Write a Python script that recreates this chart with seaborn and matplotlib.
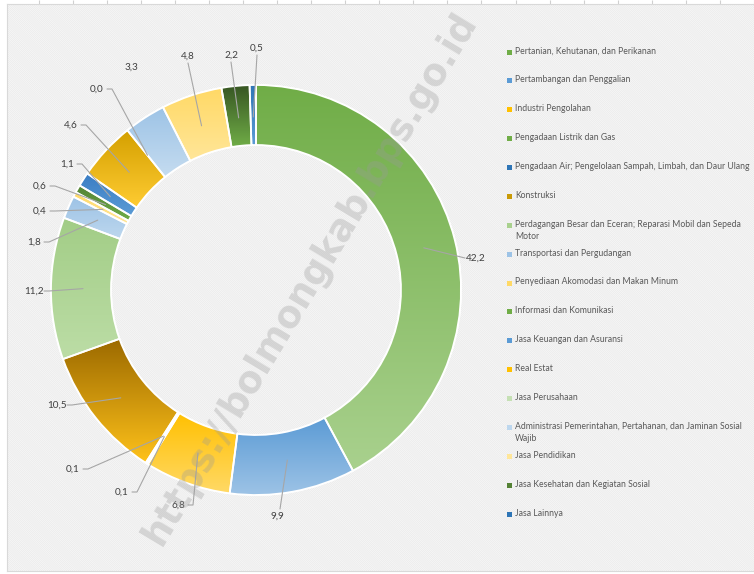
import numpy as np
import matplotlib
matplotlib.use("Agg")
import matplotlib.pyplot as plt
import seaborn as sns
from matplotlib.patches import Rectangle, Wedge
from matplotlib.colors import LinearSegmentedColormap

W, H = 754, 574

sectors = [
    "Pertanian, Kehutanan, dan Perikanan",
    "Pertambangan dan Penggalian",
    "Industri Pengolahan",
    "Pengadaan Listrik dan Gas",
    "Pengadaan Air; Pengelolaan Sampah, Limbah, dan Daur Ulang",
    "Konstruksi",
    "Perdagangan Besar dan Eceran; Reparasi Mobil dan Sepeda\nMotor",
    "Transportasi dan Pergudangan",
    "Penyediaan Akomodasi dan Makan Minum",
    "Informasi dan Komunikasi",
    "Jasa Keuangan dan Asuransi",
    "Real Estat",
    "Jasa Perusahaan",
    "Administrasi Pemerintahan, Pertahanan, dan Jaminan Sosial\nWajib",
    "Jasa Pendidikan",
    "Jasa Kesehatan dan Kegiatan Sosial",
    "Jasa Lainnya",
]
shares = [42.2, 9.9, 6.8, 0.1, 0.1, 10.5, 11.2, 1.8, 0.4, 0.6, 1.1, 4.6, 0.0, 3.3, 4.8, 2.2, 0.5]

# gradient fill of each slice, top colour -> bottom colour (Excel style)
top_colors = ['#70AD47', '#5B9BD5', '#FFC000', '#70AD47', '#5B9BD5', '#9C6A00',
              '#A2CD86', '#9DC3E6', '#FFD966', '#548235', '#3A7DC4', '#D4A000',
              '#B7DAA1', '#9DC3E6', '#FFD966', '#375623', '#2E75B6']
bottom_colors = ['#A9D18E', '#9DC3E6', '#FFD966', '#70AD47', '#5B9BD5', '#FFC21A',
                 '#BCDDA6', '#BDD7EE', '#FFE699', '#70AD47', '#5B9BD5', '#FFCC33',
                 '#C5E0B4', '#C5DCF0', '#FFE699', '#70AD47', '#5B9BD5']
legend_colors = ['#70AD47', '#5B9BD5', '#FFC000', '#70AD47', '#2E75B6', '#C99A06',
                 '#A9D18E', '#9DC3E6', '#FFD966', '#70AD47', '#5B9BD5', '#FFC000',
                 '#C5E0B4', '#BDD7EE', '#FFE699', '#548235', '#2E75B6']

# label text positions in pixel coords and the side the leader line leaves from
label_pos = [(476, 258), (277, 516), (178, 505), (122, 492), (73, 469), (57, 405),
             (34, 291), (34, 242), (40, 211), (40, 186), (67, 164), (71, 125),
             (97, 89), (131, 67), (188, 56), (231, 55), (257, 48)]
line_side = ['l', 't', 'r', 'r', 'r', 'r', 'r', 'r', 'r', 'r', 'r', 'r', 'r',
             None, 'b', 'b', 'b']


def py(y):
    return H - y


def main():
    sns.set_theme(style="white")
    plt.rcParams['font.family'] = ['Lato', 'DejaVu Sans']
    plt.rcParams['hatch.linewidth'] = 0.6

    fig = plt.figure(figsize=(W / 100, H / 100), dpi=100)
    fig.patch.set_facecolor('white')

    # background chart area (Excel style frame with ticks)
    bg = fig.add_axes([7 / W, 3 / H, (W - 7) / W, (H - 7) / H])
    bg.set_facecolor('#F9F9F9')
    bg.add_patch(Rectangle((0, 0), 1, 1, transform=bg.transAxes, facecolor='none',
                           hatch='\\' * 16, edgecolor='#EBEBEB', linewidth=0))
    bg.set_xlim(0, 1)
    bg.set_ylim(0, 1)
    bg.xaxis.tick_top()
    bg.set_xticks(np.arange(0.0, 1.0, 34.5 / (W - 7)) + 32 / (W - 7))
    bg.set_yticks(1 - (np.arange(0.0, 1.0, 15.6 / (H - 7)) + 12 / (H - 7)))
    bg.tick_params(axis='both', direction='out', length=3, width=0.8, color='#D0D0D0',
                   labeltop=False, labelleft=False, labelbottom=False)
    for s in ['top', 'left', 'bottom']:
        bg.spines[s].set_color('#D9D9D9')
        bg.spines[s].set_linewidth(0.8)
    bg.spines['right'].set_visible(False)

    ax = fig.add_axes([0, 0, 1, 1])
    ax.set_facecolor('none')
    cx, cy, R, ring = 256, py(290), 205, 60
    mid_colors = [LinearSegmentedColormap.from_list('m', [a, b])(0.5)
                  for a, b in zip(top_colors, bottom_colors)]
    wedges, _ = ax.pie(shares, colors=mid_colors, radius=R, center=(cx, cy), startangle=90,
                       counterclock=False,
                       wedgeprops=dict(width=ring, edgecolor='white', linewidth=1.3))

    # vertical gradient inside each slice, clipped to the slice shape
    grad = np.linspace(1, 0, 256).reshape(-1, 1)
    for w, c_top, c_bot in zip(wedges, top_colors, bottom_colors):
        if w.theta2 - w.theta1 <= 0:
            continue
        t = np.deg2rad(np.linspace(w.theta1, w.theta2, 90))
        ys = np.concatenate([cy + R * np.sin(t), cy + (R - ring) * np.sin(t)])
        cmap = LinearSegmentedColormap.from_list('g', [c_bot, c_top])
        im = ax.imshow(grad, cmap=cmap, aspect='auto', zorder=w.get_zorder() + 0.1,
                       extent=(cx - R, cx + R, ys.min(), ys.max()), interpolation='bilinear')
        im.set_clip_path(w)
        # white separator drawn on top of the gradient
        ax.add_patch(Wedge(w.center, w.r, w.theta1, w.theta2, width=w.width,
                           facecolor='none', edgecolor='white', linewidth=1.3,
                           zorder=w.get_zorder() + 0.2))
    ax.set_xlim(0, W)
    ax.set_ylim(0, H)
    ax.set_aspect('equal')
    ax.axis('off')

    # data labels with leader lines
    total = sum(shares)
    cum = np.cumsum([0] + shares[:-1])
    for i, v in enumerate(shares):
        frac = (cum[i] + v / 2) / total
        ang = np.deg2rad(90 - 360 * frac)
        r_mid = R - ring / 2 - 2
        axx, axy = cx + r_mid * np.cos(ang), cy + r_mid * np.sin(ang)
        tx, ty = label_pos[i]
        ty = py(ty)
        txt = f"{v:.1f}".replace('.', ',')
        ax.text(tx, ty, txt, ha='center', va='center', fontsize=7.2, color='#404040', zorder=5)
        side = line_side[i]
        if side is None:
            continue
        kw = dict(color='#A6A6A6', lw=0.8, zorder=4)
        if side == 'r':
            sx = tx + 10
            ax.plot([sx, sx + 5, axx], [ty, ty, axy], **kw)
        elif side == 'l':
            ax.plot([tx - 11, axx], [ty, axy], **kw)
        elif side == 't':
            ax.plot([tx + 3, axx], [ty + 7, axy], **kw)
        else:
            ax.plot([tx, axx], [ty - 7, axy], **kw)

    # legend drawn as Excel style list
    for i, name in enumerate(sectors):
        y = py(52 + i * 28.875)
        ax.add_patch(Rectangle((506.5, y - 2.5), 5, 5, facecolor=legend_colors[i], edgecolor='none'))
        ax.text(515, y + 5.5, name, ha='left', va='top', fontsize=6.2, color='#595959',
                linespacing=1.45)

    # watermark
    ax.text(310, py(278), "https://bolmongkab.bps.go.id", rotation=59, ha='center',
            va='center', fontsize=26.5, fontweight='bold', color='#9A9A9A', alpha=0.33,
            family='DejaVu Sans', zorder=6)

    fig.savefig('out.png', dpi=100)
    plt.close(fig)


if __name__ == "__main__":
    main()
